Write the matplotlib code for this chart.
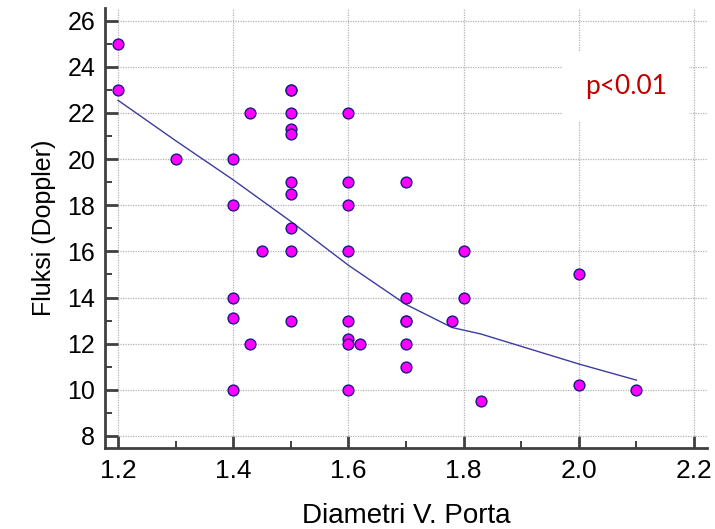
import matplotlib
matplotlib.use("Agg")
import matplotlib.pyplot as plt
from matplotlib.ticker import MultipleLocator, FormatStrFormatter

# Observations: portal vein diameter vs Doppler flow
diameter = [1.2, 1.2, 1.3, 1.4, 1.4, 1.4, 1.4, 1.4, 1.43, 1.43, 1.45,
            1.5, 1.5, 1.5, 1.5, 1.5, 1.5, 1.5, 1.5, 1.5, 1.5,
            1.6, 1.6, 1.6, 1.6, 1.6, 1.6, 1.6, 1.6, 1.62,
            1.7, 1.7, 1.7, 1.7, 1.7, 1.7, 1.78, 1.8, 1.8, 1.83,
            2.0, 2.0, 2.1]
flow = [25, 23, 20, 20, 18, 14, 13.1, 10, 22, 12, 16,
        23, 23, 22, 21.3, 21.1, 19, 18.5, 17, 16, 13,
        22, 19, 18, 16, 13, 12.2, 12, 10, 12,
        19, 14, 13, 13, 12, 11, 13, 16, 14, 9.5,
        15, 10.2, 10]

# Smoothed trend (LOESS-style) evaluated at the observed diameters
trend_x = [1.2, 1.3, 1.4, 1.5, 1.6, 1.7, 1.78, 1.83, 2.0, 2.1]
trend_y = [22.55, 20.8, 19.1, 17.3, 15.4, 13.7, 12.7, 12.42, 11.12, 10.42]

x_ticks = [1.2, 1.4, 1.6, 1.8, 2.0, 2.2]
y_ticks = [8, 10, 12, 14, 16, 18, 20, 22, 24, 26]

plt.rcParams["font.family"] = ["Liberation Sans", "DejaVu Sans"]

fig = plt.figure(figsize=(7.15, 5.29), dpi=100)
ax = fig.add_axes([105 / 715, 81 / 529, 602 / 715, 440 / 529])

ax.set_xlim(1.1774, 2.2226)
ax.set_ylim(7.478, 26.55)

ax.set_xticks(x_ticks)
ax.set_yticks(y_ticks)
ax.xaxis.set_major_formatter(FormatStrFormatter("%.1f"))
ax.xaxis.set_minor_locator(MultipleLocator(0.1))
ax.yaxis.set_minor_locator(MultipleLocator(1))

ax.grid(True, which="major", color="#b4b4b4", linestyle=(0, (1, 1)),
        linewidth=0.9, zorder=0)

for side in ("top", "right"):
    ax.spines[side].set_visible(False)
for side in ("left", "bottom"):
    ax.spines[side].set_color("#404040")
    ax.spines[side].set_linewidth(2.0)

ax.tick_params(which="major", direction="in", length=9, width=2.0,
               color="#404040", pad=6)
ax.tick_params(which="minor", direction="in", length=5, width=1.4,
               color="#404040")
ax.tick_params(axis="x", which="major", labelsize=19, pad=8)
ax.tick_params(axis="y", which="major", labelsize=18, pad=7)

ax.plot(trend_x, trend_y, color="#3c3ca0", linewidth=1.0, zorder=3)
ax.plot(diameter, flow, linestyle="none", marker="o", markersize=7.8,
        markerfacecolor="#ff00ff", markeredgecolor="#1a1a80",
        markeredgewidth=1.0, zorder=4, clip_on=False)

ax.set_xlabel("Diametri V. Porta", fontsize=20, labelpad=14)
ax.set_ylabel("Fluksi (Doppler)", fontsize=18, labelpad=8)

ax.text(2.082, 23.15, "p<0.01", fontsize=19, color="#c00000",
        family=["Lato", "DejaVu Sans"], ha="center", va="center",
        bbox=dict(boxstyle="square,pad=0.85", facecolor="white",
                  edgecolor="none"), zorder=5)

fig.savefig("out.png", dpi=100)
